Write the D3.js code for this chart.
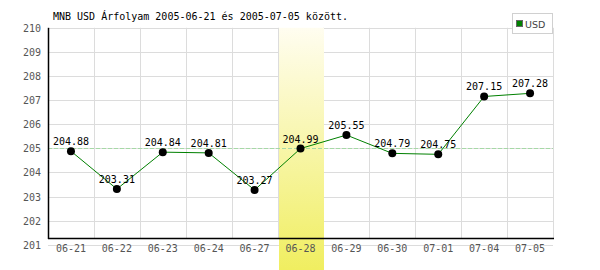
<!DOCTYPE html>
<html>
<head>
<meta charset="utf-8">
<script src="https://cdn.jsdelivr.net/npm/d3@7"></script>
<style>
html,body{margin:0;padding:0;background:#fff;}
svg{display:block;}
</style>
</head>
<body>
<div id="chart"></div>
<script>
const title = "MNB USD Árfolyam 2005-06-21 és 2005-07-05 között.";
const categories = ["06-21","06-22","06-23","06-24","06-27","06-28","06-29","06-30","07-01","07-04","07-05"];
const usdValues = [204.88,203.31,204.84,204.81,203.27,204.99,205.55,204.79,204.75,207.15,207.28];
const yTicks = [201,202,203,204,205,206,207,208,209,210];
const highlightCategory = "06-28";
const referenceValue = 205;
const seriesName = "USD";

(function(){
const W = 600, H = 270;
const pLeft = 48, pRight = 553, pTop = 27.8, pBottom = 244.7, axisY = 238;
const mono = "'DejaVu Sans Mono', monospace";

const svg = d3.select("#chart").append("svg").attr("width", W).attr("height", H);

const x = d3.scaleBand().domain(categories).range([pLeft, pRight]).padding(0);
const y = d3.scaleLinear().domain([201, 210]).range([pBottom, pTop]);
const cx = d => x(d) + x.bandwidth() / 2;

// horizontal gridlines
svg.append("g").selectAll("line").data(yTicks).join("line")
  .attr("x1", pLeft).attr("x2", pRight)
  .attr("y1", d => Math.round(y(d)) + 0.5).attr("y2", d => Math.round(y(d)) + 0.5)
  .attr("stroke", "#dcdcdc").attr("stroke-width", 1);

// vertical gridlines
const vLines = categories.slice(1).map(c => x(c)).concat([pRight]);
svg.append("g").selectAll("line").data(vLines).join("line")
  .attr("x1", d => Math.round(d) + 0.5)
  .attr("x2", d => Math.round(d) + 0.5)
  .attr("y1", pTop).attr("y2", axisY)
  .attr("stroke", "#dcdcdc").attr("stroke-width", 1);

// highlight band
const defs = svg.append("defs");
const grad = defs.append("linearGradient").attr("id", "hl").attr("x1", 0).attr("x2", 0).attr("y1", 0).attr("y2", 1);
grad.append("stop").attr("offset", "0%").attr("stop-color", "#fffdf0");
grad.append("stop").attr("offset", "100%").attr("stop-color", "#f0ee60");
svg.append("rect")
  .attr("x", Math.round(x(highlightCategory)) + 1)
  .attr("y", pTop)
  .attr("width", Math.round(x.bandwidth()) - 1)
  .attr("height", H - pTop)
  .attr("fill", "url(#hl)");

// reference dashed line
svg.append("line")
  .attr("x1", pLeft).attr("x2", pRight)
  .attr("y1", Math.round(y(referenceValue)) + 0.5).attr("y2", Math.round(y(referenceValue)) + 0.5)
  .attr("stroke", "#a6d9a6").attr("stroke-width", 1).attr("stroke-dasharray", "4,2");

// axes lines
svg.append("line").attr("x1", pLeft + 0.5).attr("x2", pLeft + 0.5).attr("y1", pTop).attr("y2", axisY + 1)
  .attr("stroke", "#000").attr("stroke-width", 1.5);
svg.append("line").attr("x1", pLeft).attr("x2", pRight + 1).attr("y1", axisY + 0.5).attr("y2", axisY + 0.5)
  .attr("stroke", "#000").attr("stroke-width", 1.5);

// y tick labels
svg.append("g").selectAll("text").data(yTicks).join("text")
  .attr("x", 41).attr("y", d => y(d) + 4)
  .attr("text-anchor", "end")
  .attr("font-family", mono).attr("font-size", 10).attr("fill", "#555")
  .text(d => d);

// x tick labels
svg.append("g").selectAll("text").data(categories).join("text")
  .attr("x", d => cx(d)).attr("y", 252)
  .attr("text-anchor", "middle")
  .attr("font-family", mono).attr("font-size", 10).attr("fill", "#555")
  .text(d => d);

// line
const data = categories.map((c, i) => ({c, v: usdValues[i]}));
svg.append("path").datum(data)
  .attr("d", d3.line().x(d => cx(d.c)).y(d => y(d.v)))
  .attr("fill", "none").attr("stroke", "#008000").attr("stroke-width", 1);

// points
svg.append("g").selectAll("circle").data(data).join("circle")
  .attr("cx", d => cx(d.c)).attr("cy", d => y(d.v)).attr("r", 4).attr("fill", "#000");

// value labels
svg.append("g").selectAll("text").data(data).join("text")
  .attr("x", d => cx(d.c)).attr("y", d => y(d.v) - 6)
  .attr("text-anchor", "middle")
  .attr("font-family", mono).attr("font-size", 10).attr("fill", "#000")
  .text(d => d.v.toFixed(2));

// title
svg.append("text").attr("x", 53).attr("y", 20)
  .attr("font-family", mono).attr("font-size", 10).attr("fill", "#000")
  .text(title);

// legend
const lg = svg.append("g");
lg.append("rect").attr("x", 512.5).attr("y", 13.5).attr("width", 40).attr("height", 20)
  .attr("fill", "#fff").attr("stroke", "#d0d0d0");
lg.append("rect").attr("x", 516.5).attr("y", 20.5).attr("width", 6).attr("height", 6)
  .attr("fill", "#008000").attr("stroke", "#666");
lg.append("text").attr("x", 525).attr("y", 27.5)
  .attr("font-family", "'DejaVu Sans', sans-serif").attr("font-size", 9.5).attr("fill", "#444")
  .text(seriesName);
})();
</script>
</body>
</html>
